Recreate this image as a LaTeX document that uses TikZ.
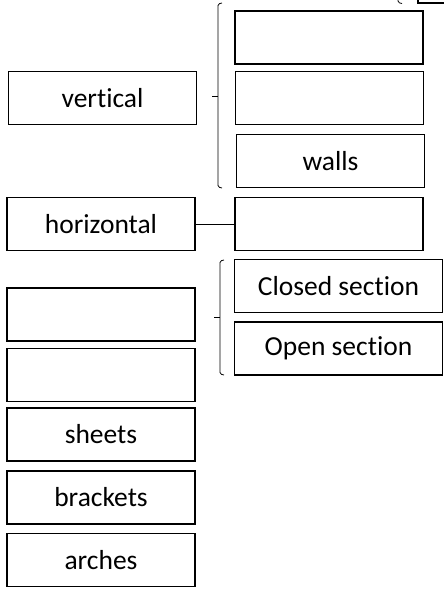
\documentclass[tikz,border=0pt]{standalone}
\usepackage{fontspec}
\setmainfont{Carlito}[Ligatures=NoCommon]
\begin{document}
\begin{tikzpicture}[x=1pt,y=-1pt,
  box/.style={draw,line width=1.5pt,minimum width=188pt,minimum height=53pt,inner sep=0pt,font=\fontsize{27.5}{32}\selectfont},
  wide/.style={box,minimum width=208pt},
  brk/.style={line width=0.8pt,rounded corners=1.5pt}]
 \useasboundingbox (0,0) rectangle (444,602);
 % left column
 \node[box] (vert) at (102.5,98) {vertical};
 \node[box] (horiz) at (101,224) {horizontal};
 \node[box] (lblank1) at (101,314.5) {};
 \node[box] (lblank2) at (101,375) {};
 \node[box] (sheets) at (101,434.5) {sheets};
 \node[box] (brackets) at (101,497.5) {brackets};
 \node[box] (arches) at (101,560) {arches};
 % right column
 \node[box] (top) at (512,-23.5) {};
 \node[box] (rblank1) at (329,37.5) {};
 \node[box] (rblank2) at (329.5,98) {};
 \node[box] (walls) at (330.5,161) {walls};
 \node[box] (rblank3) at (329,224) {};
 \node[wide] (closed) at (338.5,286) {Closed section};
 \node[wide] (open) at (338.5,348.5) {Open section};
 % brackets
 \draw[brk] (398,-6) -- (398,2.5) -- (402,3.5);
 \draw[brk] (222,3) -- (218,4) -- (218,187) -- (222,188);
 \draw[line width=0.8pt] (212,96) -- (218,96);
 \draw[brk] (224,260) -- (220,261) -- (220,374) -- (224,375);
 \draw[line width=0.8pt] (214,317) -- (220,317);
 % link
 \draw[line width=0.8pt] (horiz) -- (rblank3);
\end{tikzpicture}
\end{document}
